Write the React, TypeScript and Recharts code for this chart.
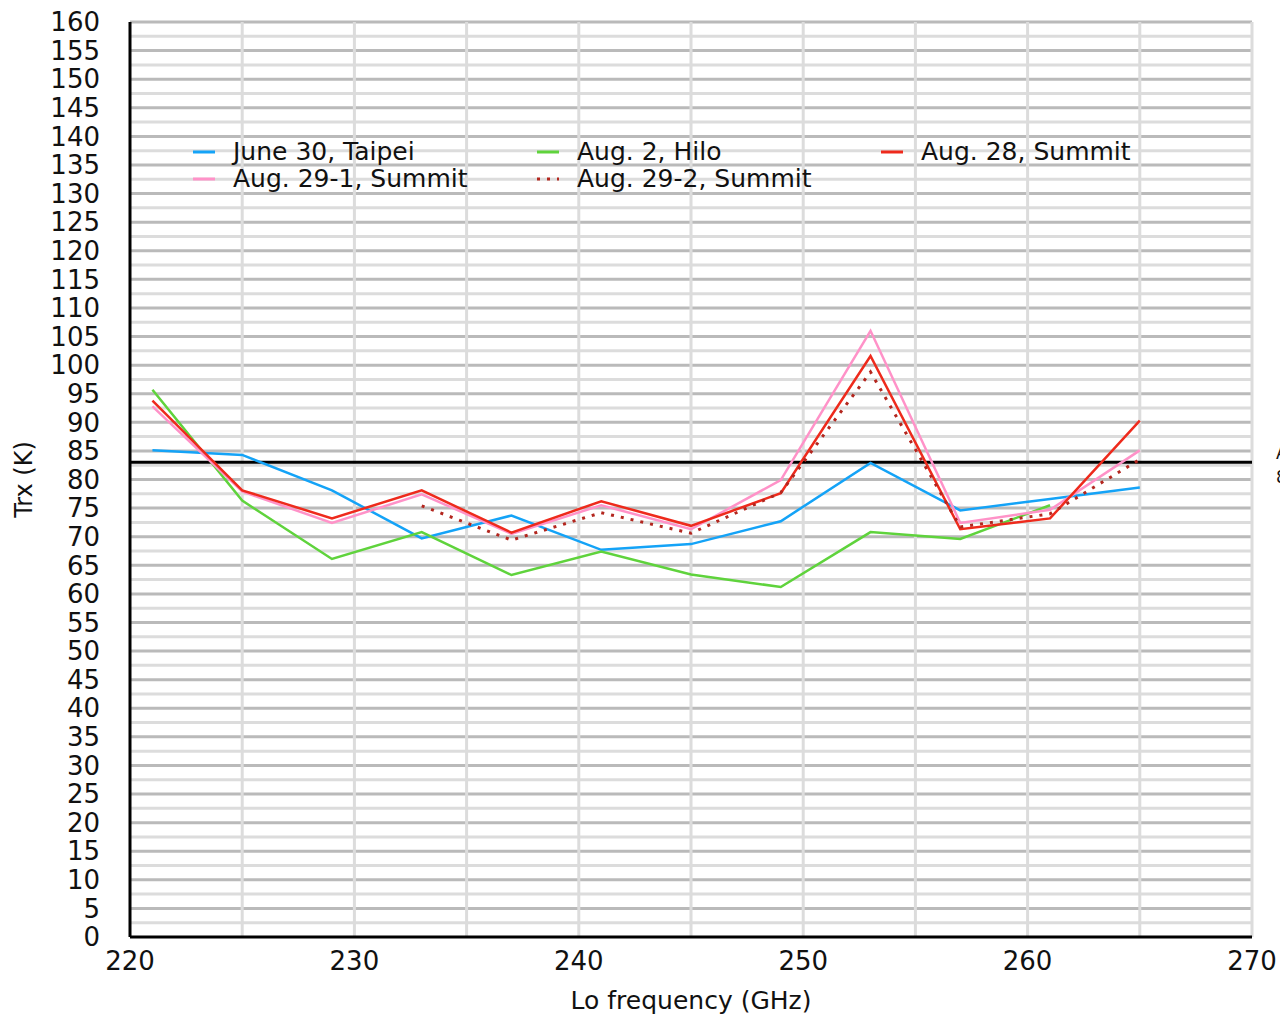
import React from "react";
import {
  LineChart,
  Line,
  XAxis,
  YAxis,
  CartesianGrid,
  ReferenceLine,
  Legend,
  Label,
} from "recharts";

const FONT = '"DejaVu Sans", "Noto Sans", sans-serif';

// LO frequencies (GHz)
const freqs = [221, 225, 229, 233, 237, 241, 245, 249, 253, 257, 261, 265];

// Trx (K) per measurement run
const june30Taipei = [85.1, 84.3, 78.1, 69.7, 73.7, 67.7, 68.7, 72.7, 82.9, 74.6, 76.6, 78.6];
const aug2Hilo = [95.7, 76.3, 66.1, 70.8, 63.3, 67.4, 63.4, 61.2, 70.8, 69.6, 75.5, null];
const aug28Summit = [93.8, 78.1, 73.2, 78.1, 70.7, 76.2, 71.9, 77.6, 101.6, 71.3, 73.2, 90.3];
const aug29_1Summit = [92.8, 77.9, 72.4, 77.4, 70.5, 75.5, 71.3, 79.9, 106.0, 72.4, 74.7, 85.1];
const aug29_2Summit = [null, null, null, 75.4, 69.4, 74.2, 70.6, 77.7, 98.8, 71.7, 74.0, 83.5];

const specLine = 83;

const xTicks = [220, 230, 240, 250, 260, 270];
const xGrid = [225, 230, 235, 240, 245, 250, 255, 260, 265, 270];
const yTicks = Array.from({ length: 33 }, (_, i) => i * 5);
const yMajorGrid = yTicks.filter((v) => v > 0);
const yMinorGrid = yTicks.slice(0, -1).map((v) => v + 2.5);

const SERIES = [
  { key: "june30", name: "June 30, Taipei", color: "#14a3f7", dash: undefined, values: june30Taipei },
  { key: "aug2", name: "Aug. 2, Hilo", color: "#5fd33c", dash: undefined, values: aug2Hilo },
  { key: "aug28", name: "Aug. 28, Summit", color: "#ee2a1c", dash: undefined, values: aug28Summit },
  { key: "aug29_1", name: "Aug. 29-1, Summit", color: "#ff92c8", dash: undefined, values: aug29_1Summit },
  { key: "aug29_2", name: "Aug. 29-2, Summit", color: "#b3261e", dash: "3 7", values: aug29_2Summit },
];

const DRAW_ORDER = ["june30", "aug2", "aug29_1", "aug28", "aug29_2"];

const data = freqs.map((f, i) => {
  const row: Record<string, number | null> = { freq: f };
  SERIES.forEach((s) => {
    row[s.key] = s.values[i];
  });
  return row;
});

const LegendBox = () => (
  <div
    style={{
      display: "grid",
      gridTemplateColumns: "344px 344px 344px",
      fontSize: 25,
      lineHeight: "27px",
      fontFamily: FONT,
      color: "#111",
    }}
  >
    {SERIES.map((s) => (
      <div key={s.key} style={{ display: "flex", alignItems: "center", whiteSpace: "nowrap" }}>
        <svg width={40} height={27} style={{ flex: "none" }}>
          <line x1={0} x2={22} y1={14} y2={14} stroke={s.color} strokeWidth={3} strokeDasharray={s.dash} />
        </svg>
        <span>{s.name}</span>
      </div>
    ))}
  </div>
);

export default function App() {
  return (
    <div style={{ position: "absolute", left: 0, top: 0 }}>
      <LineChart
        width={1280}
        height={1015}
        data={data}
        margin={{ top: 22, right: 28, bottom: 0, left: 0 }}
        style={{ fontFamily: FONT }}
      >
        <CartesianGrid horizontalValues={yMinorGrid} vertical={false} stroke="#dcdcdc" strokeWidth={3} />
        <CartesianGrid horizontalValues={yMajorGrid} vertical={false} stroke="#bababa" strokeWidth={3} />
        <CartesianGrid verticalValues={xGrid} horizontal={false} stroke="#dcdcdc" strokeWidth={3} />
        <XAxis
          dataKey="freq"
          type="number"
          domain={[220, 270]}
          ticks={xTicks}
          interval={0}
          height={78}
          tickLine={false}
          tickSize={0}
          tickMargin={15}
          axisLine={{ stroke: "#000", strokeWidth: 3 }}
          tick={{ fill: "#111", fontSize: 26 }}
        >
          <Label
            content={({ viewBox }: any) => (
              <text
                x={viewBox.x + viewBox.width / 2}
                y={1009}
                textAnchor="middle"
                fill="#111"
                fontSize={25}
              >
                Lo frequency (GHz)
              </text>
            )}
          />
        </XAxis>
        <YAxis
          type="number"
          domain={[0, 160]}
          ticks={yTicks}
          interval={0}
          width={130}
          tickLine={false}
          tickSize={0}
          tickMargin={30}
          axisLine={{ stroke: "#000", strokeWidth: 3 }}
          tick={{ fill: "#111", fontSize: 26 }}
        >
          <Label
            content={({ viewBox }: any) => (
              <text
                x={32}
                y={viewBox.y + viewBox.height / 2}
                transform={`rotate(-90 32 ${viewBox.y + viewBox.height / 2})`}
                textAnchor="middle"
                fill="#111"
                fontSize={24}
              >
                Trx (K)
              </text>
            )}
          />
        </YAxis>
        <ReferenceLine
          y={specLine}
          stroke="#000"
          strokeWidth={3}
          label={({ viewBox }: any) => (
            <text x={viewBox.x + viewBox.width + 24} y={viewBox.y} fill="#111" fontSize={17}>
              <tspan x={viewBox.x + viewBox.width + 24} dy={-3}>Average</tspan>
              <tspan x={viewBox.x + viewBox.width + 24} dy={24}>83 K</tspan>
            </text>
          )}
        />
        {DRAW_ORDER.map((k) => {
          const s = SERIES.find((x) => x.key === k)!;
          return (
            <Line
              key={s.key}
              dataKey={s.key}
              name={s.name}
              stroke={s.color}
              strokeWidth={s.dash ? 3 : 2.5}
              strokeDasharray={s.dash}
              dot={false}
              activeDot={false}
              connectNulls={false}
              isAnimationActive={false}
            />
          );
        })}
        <Legend
          layout="horizontal"
          verticalAlign="middle"
          align="center"
          content={() => <LegendBox />}
          wrapperStyle={{ position: "absolute", left: 193, top: 138, width: 1040, height: 54 }}
        />
      </LineChart>
    </div>
  );
}
